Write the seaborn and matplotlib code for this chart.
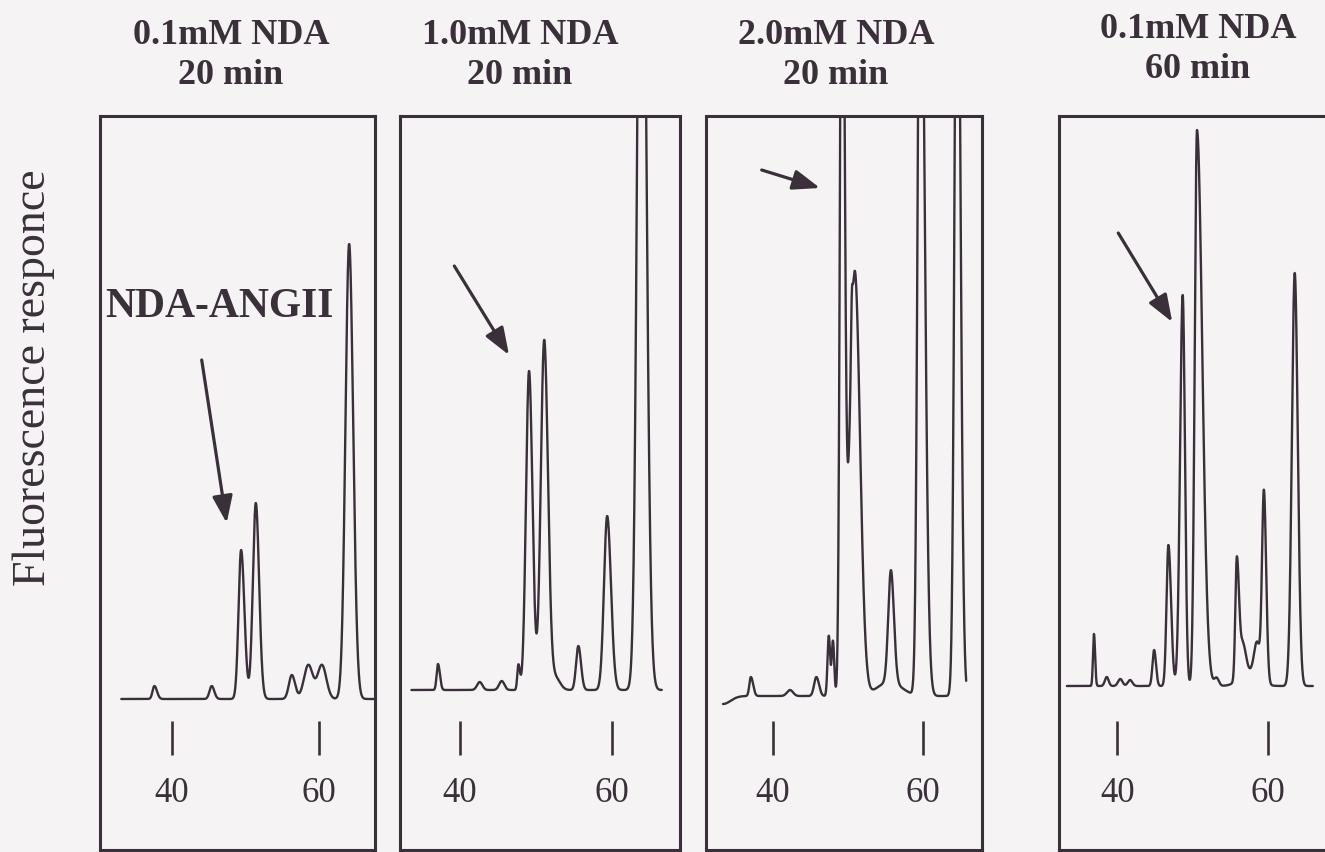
import numpy as np
import pandas as pd
import matplotlib
matplotlib.use("Agg")
import matplotlib.pyplot as plt
import seaborn as sns

# ---- data -------------------------------------------------------------
conditions = ["0.1mM NDA\n20 min", "1.0mM NDA\n20 min",
              "2.0mM NDA\n20 min", "0.1mM NDA\n60 min"]
tick_times = [40, 60]
tick_labels = ["40", "60"]

# recorded part of every trace (min) and its baseline level
trace_start = [33.1, 33.6, 33.4, 33.3]
trace_end = [67.6, 66.6, 65.7, 66.0]
baseline = [0, 9, 3, 13]

# peak tables: retention time (min), height, left / right width (min)
rt_1 = [37.6, 45.4, 49.4, 51.4, 56.3, 58.55, 60.4, 64.1]
height_1 = [13, 13, 149, 196, 24, 34, 34, 455]
wl_1 = [0.25, 0.30, 0.35, 0.40, 0.40, 0.60, 0.60, 0.50]
wr_1 = [0.35, 0.35, 0.45, 0.45, 0.45, 0.60, 0.60, 0.55]

rt_2 = [37.1, 42.6, 45.5, 47.7, 49.1, 51.1, 52.6, 55.6, 59.4, 63.9]
height_2 = [26, 8, 9, 25, 319, 350, 12, 44, 174, 1007]
wl_2 = [0.18, 0.35, 0.35, 0.15, 0.40, 0.45, 0.50, 0.30, 0.42, 0.50]
wr_2 = [0.25, 0.35, 0.35, 0.20, 0.45, 0.50, 0.60, 0.35, 0.50, 0.60]

rt_3 = [33.4, 37.1, 42.3, 45.8, 47.45, 48.0, 49.2, 50.5, 50.9, 55.5, 55.7, 59.6, 64.5]
height_3 = [-8, 19, 6, 19, 60, 55, 900, 40, 425, 14, 112, 880, 900]
wl_3 = [1.0, 0.20, 0.40, 0.30, 0.17, 0.17, 0.25, 0.10, 0.70, 1.6, 0.35, 0.33, 0.33]
wr_3 = [1.0, 0.30, 0.40, 0.35, 0.17, 0.17, 0.33, 0.10, 0.70, 1.6, 0.40, 0.55, 0.42]

rt_4 = [36.9, 38.6, 40.4, 41.7, 44.9, 46.8, 48.7, 50.6, 53.2, 55.9, 56.7, 57.5, 58.6, 59.5, 63.6]
height_4 = [52, 9, 7, 6, 36, 141, 391, 556, 8, 123, 30, 14, 35, 190, 413]
wl_4 = [0.13, 0.25, 0.30, 0.30, 0.22, 0.25, 0.35, 0.30, 0.30, 0.20, 0.30, 1.2, 0.40, 0.25, 0.38]
wr_4 = [0.15, 0.25, 0.30, 0.30, 0.25, 0.35, 0.30, 0.70, 0.30, 0.30, 0.40, 1.2, 0.40, 0.30, 0.40]

peak_tables = [(rt_1, height_1, wl_1, wr_1), (rt_2, height_2, wl_2, wr_2),
               (rt_3, height_3, wl_3, wr_3), (rt_4, height_4, wl_4, wr_4)]

# arrows marking the NDA-ANGII peak: (tail, head) in (min, response)
arrow_tail = [(44.04, 339), (39.25, 433), (38.54, 529), (40.13, 466)]
arrow_head = [(47.44, 176), (46.46, 344), (46.28, 511), (47.31, 377)]

# ---- style ------------------------------------------------------------
sns.set_theme(style="white")
plt.rcParams["font.family"] = ["Liberation Serif", "DejaVu Serif"]
ink = "#3a3039"
paper = "#f6f3f5"

W, H = 1325, 853
fig = plt.figure(figsize=(W / 100, H / 100), dpi=100, facecolor=paper)

# panel frames in pixels (left, right) and visible time window
frames = [(100, 375), (400, 680), (706, 982), (1059, 1337)]
windows = [(30.20, 67.62), (32.09, 69.00), (31.14, 67.80), (32.25, 69.22)]
top_px, bot_px = 117, 851
y_range = (-151, 583)


def chromatogram(t, rts, heights, wl, wr):
    signal = np.zeros_like(t)
    for c, h, sl, sr in zip(rts, heights, wl, wr):
        s = np.where(t < c, sl, sr)
        signal += h * np.exp(-0.5 * ((t - c) / s) ** 2)
    return signal


for i in range(4):
    left, right = frames[i]
    ax = fig.add_axes([left / W, (H - bot_px) / H,
                       (right - left) / W, (bot_px - top_px) / H])
    ax.set_facecolor(paper)

    t = np.linspace(trace_start[i], trace_end[i], 4000)
    rts, hs, wl, wr = peak_tables[i]
    df = pd.DataFrame({"time": t,
                       "response": baseline[i] + chromatogram(t, rts, hs, wl, wr)})
    sns.lineplot(data=df, x="time", y="response", ax=ax, color=ink,
                 lw=1.7, estimator=None, sort=False)

    ax.set_xlim(*windows[i])
    ax.set_ylim(*y_range)
    ax.set_xticks([])
    ax.set_yticks([])
    ax.set_xlabel("")
    ax.set_ylabel("")
    for sp in ax.spines.values():
        sp.set_visible(True)
        sp.set_color(ink)
        sp.set_linewidth(2.2)

    # time scale drawn inside the frame
    loc = (bot_px - 722) / (bot_px - top_px)
    sec = ax.secondary_xaxis(loc)
    sec.set_xticks(tick_times, tick_labels)
    for sp in sec.spines.values():
        sp.set_visible(False)
    sec.tick_params(axis="x", direction="out", length=24.5, width=1.9,
                    color=ink, pad=15, labelsize=25, labelcolor=ink)

    ax.annotate("", xy=arrow_head[i], xytext=arrow_tail[i],
                arrowprops=dict(arrowstyle="-|>,head_length=0.75,head_width=0.28",
                                color=ink, lw=2.3, shrinkA=0, shrinkB=0,
                                mutation_scale=22))
    if i == 0:
        ax.text(46.4, 393, "NDA-ANGII", ha="center", va="center",
                fontsize=30, fontweight="bold", color=ink)

# panel headings
title_x = [231, 520, 836, 1198]
title_y = [56, 56, 56, 50]
for label, cx, cy in zip(conditions, title_x, title_y):
    fig.text(cx / W, 1 - cy / H, label, ha="center", va="center",
             fontsize=26, fontweight="bold", color=ink, linespacing=1.28)

fig.text(34 / W, 1 - 378 / H, "Fluorescence responce", rotation=90,
         ha="center", va="center", fontsize=33, color=ink)

fig.savefig("out.png", dpi=100, facecolor=paper)
